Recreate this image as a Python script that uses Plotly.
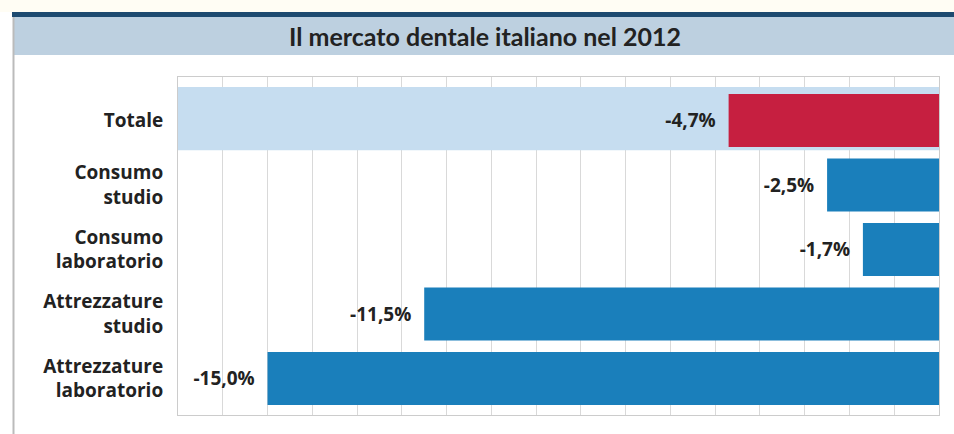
import plotly.graph_objects as go

categories = ["Totale", "Consumo<br>studio", "Consumo<br>laboratorio",
              "Attrezzature<br>studio", "Attrezzature<br>laboratorio"]
values = [-4.7, -2.5, -1.7, -11.5, -15.0]
value_labels = ["-4,7%", "-2,5%", "-1,7%", "-11,5%", "-15,0%"]
bar_colors = ["#C61F40", "#1A7FBB", "#1A7FBB", "#1A7FBB", "#1A7FBB"]
title_text = "Il mercato dentale italiano nel 2012"
x_range = [-17, 0]

TFONT = "Lato"
LFONT = "Open Sans"
W, H = 954, 434
L, R, T, B = 178, 15, 77, 19
pw, ph = W - L - R, H - T - B

def px(x):
    return (x - L) / pw

def py(y):
    return (H - B - y) / ph

fig = go.Figure()
fig.add_trace(go.Bar(
    x=values, y=categories, orientation="h",
    marker=dict(color=bar_colors, line=dict(width=0)),
    width=0.82,
    text=[t + "\u00a0\u00a0" for t in value_labels],
    textposition="outside",
    textfont=dict(family=LFONT, size=19, color="#222222", weight="bold"),
    hoverinfo="skip",
))

shapes = [
    # Totale highlight band
    dict(type="rect", xref="x", yref="y", x0=x_range[0], x1=x_range[1], y0=-0.52, y1=0.46,
         fillcolor="#C6DDF0", line=dict(width=0), layer="between"),
    # cream top strip
    dict(type="rect", xref="paper", yref="paper", x0=px(0), x1=px(W), y0=py(0), y1=py(12),
         fillcolor="#FFFDF4", line=dict(width=0), layer="below"),
    # title band
    dict(type="rect", xref="paper", yref="paper", x0=px(13), x1=px(W), y0=py(17), y1=py(55),
         fillcolor="#BDD0E0", line=dict(width=0), layer="below"),
    # dark navy line
    dict(type="rect", xref="paper", yref="paper", x0=px(12), x1=px(W), y0=py(12), y1=py(17),
         fillcolor="#1D4A70", line=dict(width=0), layer="below"),
    # left frame line
    dict(type="line", xref="paper", yref="paper", x0=px(13.5), x1=px(13.5), y0=py(17), y1=py(H),
         line=dict(color="#BBBBBB", width=2), layer="below"),
]

fig.update_layout(
    width=W, height=H,
    margin=dict(l=L, r=R, t=T, b=B),
    paper_bgcolor="white", plot_bgcolor="white",
    showlegend=False,
    shapes=shapes,
    annotations=[dict(
        text=title_text, xref="paper", yref="paper",
        x=px(485), y=py(36), xanchor="center", yanchor="middle",
        showarrow=False,
        font=dict(family=TFONT, size=25, color="#222222", weight="bold"),
    )],
    xaxis=dict(
        range=x_range, dtick=1, showticklabels=False,
        showgrid=True, gridcolor="#D9D9D9", gridwidth=1,
        zeroline=False,
        showline=True, mirror=True, linecolor="#CCCCCC", linewidth=1,
        fixedrange=True,
    ),
    yaxis=dict(
        type="category", categoryorder="array", categoryarray=categories,
        range=[4.566, -0.674],
        showgrid=False, zeroline=False,
        showline=True, mirror=True, linecolor="#CCCCCC", linewidth=1,
        tickfont=dict(family=LFONT, size=19, color="#222222", weight="bold"),
        ticks="", ticklabelstandoff=10,
        fixedrange=True,
    ),
)

fig.write_html("out.html")
